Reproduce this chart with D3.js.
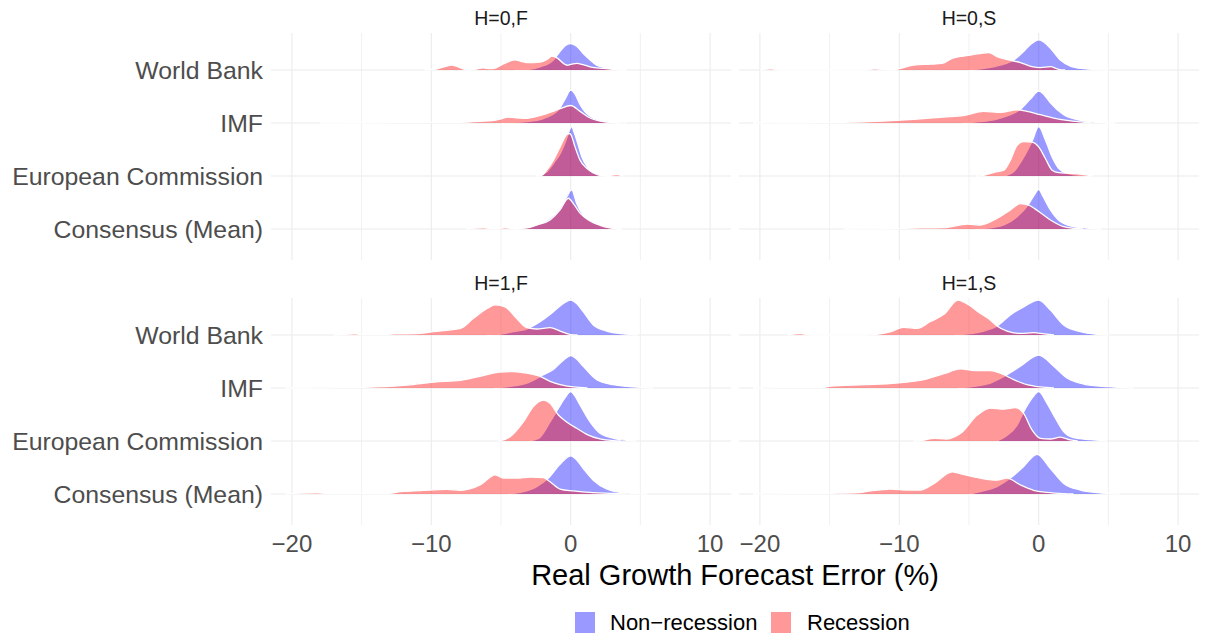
<!DOCTYPE html>
<html><head><meta charset="utf-8">
<script src="https://cdn.jsdelivr.net/npm/d3@7"></script>
<style>body{margin:0;background:#fff;} svg{display:block;font-family:"Liberation Sans",Arial,sans-serif;}</style>
</head><body>
<svg id="chart" width="1208" height="635"></svg>
<script>
// ---------- data ----------
const rows = ["World Bank", "IMF", "European Commission", "Consensus (Mean)"];
const facets = ["H=0,F", "H=0,S", "H=1,F", "H=1,S"];
const groups = ["Non\u2212recession", "Recession"];
const xTicks = [-20, -10, 0, 10];
const xMinor = [-15, -5, 5];
const xTitle = "Real Growth Forecast Error (%)";

// ridge heights (in units of row spacing) at x positions, [x, height]
const h0F_non = [
  [[-4,0],[-3,0.01],[-2.2,0.06],[-1.24,0.19],[-0.76,0.35],[-0.4,0.46],[0,0.50],[0.43,0.45],[0.9,0.31],[1.39,0.19],[1.86,0.09],[2.58,0.04],[3.5,0.006],[4,0]],
  [[-5,0],[-3,0.03],[-2,0.08],[-1.3,0.16],[-0.8,0.27],[-0.35,0.48],[0,0.62],[0.3,0.55],[0.67,0.35],[1.0,0.22],[1.39,0.126],[2.1,0.05],[3.06,0.01],[4,0]],
  [[-2.5,0],[-1.8,0.06],[-1.2,0.25],[-0.7,0.45],[-0.3,0.70],[-0.1,0.86],[0.07,0.93],[0.25,0.82],[0.43,0.68],[0.8,0.36],[1.27,0.145],[1.86,0.04],[2.4,0.005],[3,0]],
  [[-4,0],[-3.2,0.02],[-2.4,0.08],[-1.5,0.2],[-0.8,0.38],[-0.3,0.6],[0.07,0.74],[0.43,0.48],[0.9,0.26],[1.62,0.14],[2.34,0.057],[3.06,0.01],[3.7,0]]
];
const h0F_rec = [
  [[-10.5,0],[-9.8,0.01],[-9.2,0.05],[-8.5,0.094],[-7.9,0.04],[-7.45,0],[-6.9,0.01],[-6.3,0.04],[-5.8,0.025],[-5.5,0.03],[-4.8,0.12],[-4.0,0.19],[-3.5,0.16],[-3.15,0.14],[-2.2,0.15],[-1.7,0.2],[-1.36,0.26],[-0.93,0.22],[-0.5,0.12],[-0.26,0.09],[0.07,0.11],[0.43,0.126],[0.9,0.1],[1.39,0.06],[2.34,0.03],[3.5,0.004],[4,0]],
  [[-18,0],[-14,0.005],[-10,0.01],[-7.9,0.013],[-6.5,0.03],[-5.5,0.05],[-5,0.08],[-4.5,0.11],[-4,0.10],[-3.15,0.09],[-2.5,0.12],[-1.96,0.157],[-1.26,0.22],[-0.76,0.27],[0,0.33],[0.67,0.22],[1.39,0.094],[2.34,0.025],[3.5,0]],
  [[-2.3,0],[-2.08,0.01],[-1.72,0.11],[-1.24,0.3],[-0.76,0.55],[-0.24,0.79],[-0.05,0.8],[0.07,0.75],[0.31,0.55],[0.67,0.30],[1.15,0.145],[1.62,0.06],[2.1,0.01],[2.6,0.005],[3.25,0.025],[3.8,0]],
  [[-7.5,0],[-6.26,0.02],[-5.5,0.005],[-4.7,0.02],[-4,0.005],[-3.15,0.02],[-2.44,0.075],[-1.48,0.17],[-0.76,0.36],[-0.17,0.58],[0.19,0.48],[0.67,0.30],[1.27,0.17],[2.1,0.07],[2.82,0.02],[3.5,0]]
];
const h0S_non = [
  [[-5,0],[-3.94,0.03],[-2.75,0.094],[-1.79,0.19],[-1.08,0.35],[-0.5,0.5],[0,0.57],[0.4,0.52],[0.84,0.41],[1.55,0.19],[2.27,0.075],[3.23,0.025],[4.2,0.006],[5,0]],
  [[-5.5,0],[-4.2,0.025],[-3,0.075],[-2.03,0.157],[-1.31,0.26],[-0.6,0.45],[0,0.60],[0.4,0.53],[0.84,0.38],[1.79,0.157],[2.75,0.063],[3.7,0.02],[4.7,0.005],[5.5,0]],
  [[-2.5,0],[-1.8,0.08],[-1.2,0.3],[-0.48,0.65],[0,0.93],[0.48,0.68],[0.96,0.36],[1.43,0.145],[2.03,0.05],[2.99,0.013],[3.7,0]],
  [[-4.5,0],[-3.5,0.02],[-2.5,0.075],[-1.55,0.23],[-0.72,0.47],[-0.3,0.65],[0,0.75],[0.3,0.62],[0.84,0.36],[1.55,0.14],[2.5,0.044],[3.7,0.013],[4.5,0]]
];
const h0S_rec = [
  [[-20,0],[-19.2,0.02],[-18.5,0],[-12.5,0],[-11.8,0.02],[-10.8,0.005],[-10.4,0.005],[-9.9,0.03],[-8.96,0.094],[-7.77,0.11],[-6.93,0.126],[-6.2,0.22],[-4.9,0.28],[-3.58,0.33],[-2.99,0.25],[-2.15,0.19],[-1.31,0.14],[-0.48,0.063],[0.1,0.045],[0.84,0.063],[1.43,0.013],[1.9,0]],
  [[-20.5,0],[-17,0.005],[-12.5,0.02],[-10.2,0.05],[-8.7,0.075],[-6.8,0.113],[-5.4,0.14],[-3.94,0.22],[-2.75,0.2],[-1.55,0.25],[-0.84,0.22],[0.12,0.157],[1.08,0.094],[2.03,0.05],[2.99,0.02],[3.8,0]],
  [[-4.5,0],[-3.94,0.013],[-3.2,0.07],[-2.5,0.11],[-2.03,0.30],[-1.55,0.58],[-1.08,0.65],[-0.48,0.64],[0,0.55],[0.48,0.33],[0.96,0.11],[1.43,0.063],[2.27,0.05],[3.23,0.025],[3.9,0]],
  [[-14,0],[-11,0.005],[-8.5,0.02],[-6.8,0.025],[-5.1,0.094],[-4.2,0.075],[-3,0.2],[-2.03,0.36],[-1.31,0.48],[-0.72,0.45],[0,0.33],[0.84,0.17],[1.79,0.044],[2.5,0.013],[3.2,0]]
];
const h1F_non = [
  [[-6,0],[-5.07,0.013],[-4.1,0.063],[-3.03,0.126],[-2.2,0.25],[-1.24,0.44],[-0.5,0.6],[0,0.66],[0.4,0.6],[0.9,0.44],[1.62,0.19],[2.58,0.075],[3.78,0.02],[4.8,0]],
  [[-5.5,0],[-4.35,0.03],[-3.15,0.09],[-1.96,0.25],[-1.24,0.35],[-0.5,0.53],[0,0.61],[0.4,0.55],[0.9,0.41],[1.86,0.157],[3.06,0.063],[4.5,0.02],[5.9,0]],
  [[-3,0],[-2.3,0.05],[-1.48,0.36],[-0.88,0.62],[-0.4,0.82],[0,0.93],[0.3,0.85],[0.67,0.68],[1.39,0.36],[2.1,0.145],[3.06,0.05],[4.0,0.013],[4.7,0]],
  [[-4.5,0],[-3.4,0.044],[-2.44,0.14],[-1.6,0.30],[-0.8,0.55],[0,0.72],[0.4,0.65],[0.9,0.48],[1.62,0.26],[2.58,0.094],[3.54,0.03],[4.73,0.006],[5.5,0]]
];
const h1F_rec = [
  [[-17,0],[-16.5,0.006],[-15.5,0.02],[-14.8,0.006],[-13.5,0.006],[-12.7,0.02],[-11,0.025],[-9.8,0.063],[-8.9,0.09],[-7.9,0.126],[-7,0.31],[-6,0.5],[-5.4,0.57],[-4.7,0.53],[-3.87,0.31],[-3.15,0.14],[-2.44,0.113],[-1.48,0.14],[-0.76,0.075],[0,0.006],[0.5,0]],
  [[-20.5,0],[-17,0.006],[-15.1,0.013],[-12.2,0.044],[-9.8,0.113],[-7.9,0.145],[-6.5,0.22],[-5.07,0.30],[-4.1,0.31],[-3.15,0.28],[-2.2,0.22],[-1.48,0.126],[-0.76,0.063],[0.19,0.02],[1.2,0]],
  [[-5.2,0],[-4.95,0.01],[-4.35,0.08],[-3.4,0.36],[-2.68,0.65],[-1.96,0.77],[-1.48,0.71],[-0.88,0.49],[-0.29,0.36],[0.43,0.24],[1.15,0.126],[2.1,0.038],[3.06,0.006],[3.6,0]],
  [[-20.5,0],[-18.2,0.02],[-17,0.006],[-15.1,0.013],[-13.2,0.006],[-12.2,0.044],[-10.8,0.063],[-8.9,0.088],[-7.9,0.07],[-6.5,0.17],[-5.4,0.36],[-4.83,0.30],[-3.87,0.30],[-2.9,0.32],[-1.96,0.31],[-1.48,0.23],[-0.76,0.094],[0.19,0.057],[1.62,0.025],[3.06,0.013],[4,0]]
];
const h1S_non = [
  [[-6,0],[-5.1,0.02],[-3.94,0.075],[-2.99,0.17],[-2.03,0.38],[-1.08,0.53],[0,0.66],[0.84,0.47],[1.79,0.19],[2.99,0.063],[4.2,0.013],[5,0]],
  [[-5.8,0],[-4.66,0.03],[-3.46,0.094],[-2.27,0.25],[-1.31,0.41],[0,0.62],[1.08,0.41],[2.03,0.19],[3.23,0.075],[4.9,0.025],[6.8,0]],
  [[-3,0],[-2.3,0.1],[-1.55,0.3],[-1.08,0.55],[-0.5,0.8],[0,0.93],[0.6,0.71],[1.2,0.43],[1.79,0.176],[2.5,0.063],[3.7,0.025],[4.9,0]],
  [[-5,0],[-4.2,0.044],[-3,0.14],[-2.03,0.30],[-1.08,0.52],[-0.12,0.75],[0.84,0.48],[1.79,0.2],[2.99,0.075],[4.2,0.025],[5.8,0]]
];
const h1S_rec = [
  [[-18,0],[-17.1,0.025],[-16.3,0],[-12.5,0],[-11.8,0.006],[-10.6,0.063],[-9.7,0.145],[-8.7,0.126],[-7.8,0.25],[-6.8,0.39],[-5.78,0.66],[-5.1,0.58],[-4.2,0.41],[-3.46,0.28],[-2.99,0.17],[-2.27,0.075],[-1.31,0.03],[-0.36,0.044],[0.4,0.02],[1.1,0]],
  [[-20.5,0],[-17.3,0.013],[-15.6,0.006],[-14.9,0.038],[-12.5,0.063],[-10.2,0.094],[-8.24,0.157],[-6.8,0.27],[-5.6,0.36],[-4.66,0.33],[-3.46,0.33],[-2.75,0.28],[-1.79,0.157],[-0.84,0.063],[0.12,0.02],[1.1,0]],
  [[-9,0],[-8.5,0.006],[-7.5,0.05],[-6.6,0.038],[-5.6,0.145],[-4.4,0.49],[-3.46,0.62],[-2.5,0.60],[-1.67,0.63],[-1.08,0.52],[-0.48,0.21],[0.12,0.05],[0.84,0.038],[1.55,0.075],[2.27,0.02],[2.8,0]],
  [[-20.5,0],[-14.8,0.013],[-12.9,0.025],[-12.1,0.057],[-10.6,0.094],[-9.4,0.075],[-8.5,0.075],[-7.5,0.2],[-6.2,0.42],[-5.4,0.37],[-4.2,0.30],[-3,0.26],[-2.27,0.30],[-1.31,0.17],[-0.36,0.07],[0.6,0.03],[1.8,0.006],[2.5,0]]
];

const facetSeries = [
  [h0F_non, h0F_rec],
  [h0S_non, h0S_rec],
  [h1F_non, h1F_rec],
  [h1S_non, h1S_rec]
];
const colors = ["#0000ff", "#ff0000"];

// ---------- layout ----------
const svg = d3.select("#chart");
const panelX = [[271, 731], [739, 1199]];
const panelY = [[33, 260], [298, 525]];
const xDomain = [-21.5, 11.5];
const rowStep = 53;

facets.forEach((f, fi) => {
  const col = fi % 2, rowP = Math.floor(fi / 2);
  const [x0, x1] = panelX[col];
  const [y0, y1] = panelY[rowP];
  const x = d3.scaleLinear().domain(xDomain).range([x0, x1]);
  const yRow = d3.scalePoint().domain(rows).range([y0 + 37, y0 + 37 + 3 * rowStep]);
  const h = d3.scaleLinear().domain([0, 1]).range([0, rowStep]);
  const g = svg.append("g");

  // gridlines
  g.selectAll(".minor").data(xMinor).join("line")
    .attr("x1", d => x(d)).attr("x2", d => x(d)).attr("y1", y0).attr("y2", y1)
    .attr("stroke", "#ebebeb").attr("stroke-width", 0.7);
  g.selectAll(".major").data(xTicks).join("line")
    .attr("x1", d => x(d)).attr("x2", d => x(d)).attr("y1", y0).attr("y2", y1)
    .attr("stroke", "#ebebeb").attr("stroke-width", 1.1);
  g.selectAll(".hgrid").data(rows).join("line")
    .attr("x1", x0).attr("x2", x1).attr("y1", d => yRow(d)).attr("y2", d => yRow(d))
    .attr("stroke", "#ebebeb").attr("stroke-width", 1.1);

  // ridges
  rows.forEach((r, ri) => {
    const base = yRow(r);
    const area = d3.area().curve(d3.curveMonotoneX)
      .x(d => x(d[0])).y0(base).y1(d => base - h(d[1]));
    const line = d3.line().curve(d3.curveMonotoneX)
      .x(d => x(d[0])).y(d => base - h(d[1]));
    facetSeries[fi].forEach((ser, si) => {
      const pts = ser[ri];
      g.append("path").attr("d", area(pts))
        .attr("fill", colors[si]).attr("fill-opacity", 0.4);
      g.append("path").attr("d", line(pts))
        .attr("fill", "none").attr("stroke", "#ffffff").attr("stroke-width", 1.3);
    });
  });

  // strip label
  svg.append("text").attr("x", (x0 + x1) / 2).attr("y", y0 - 15)
    .attr("text-anchor", "middle").attr("dominant-baseline", "central")
    .attr("font-size", 19.5).attr("fill", "#1a1a1a").text(f);

  // y labels on left column
  if (col === 0) {
    svg.append("g").selectAll("text").data(rows).join("text")
      .attr("x", 263).attr("y", d => yRow(d)).attr("dy", "0.36em")
      .attr("text-anchor", "end").attr("font-size", 24.8).attr("fill", "#4d4d4d")
      .text(d => d);
  }
  // x tick labels on bottom row
  if (rowP === 1) {
    svg.append("g").selectAll("text").data(xTicks).join("text")
      .attr("x", d => x(d)).attr("y", 543).attr("dy", "0.36em")
      .attr("text-anchor", "middle").attr("font-size", 24).attr("fill", "#4d4d4d")
      .text(d => d3.format("d")(d).replace("-", "\u2212"));
  }
});

// axis title
svg.append("text").attr("x", 735).attr("y", 575).attr("dy", "0.36em")
  .attr("text-anchor", "middle").attr("font-size", 29).attr("fill", "#000")
  .text(xTitle);

// legend
const legX = [575, 771], legTextX = [610, 807];
groups.forEach((gname, i) => {
  svg.append("rect").attr("x", legX[i]).attr("y", 612).attr("width", 20).attr("height", 21)
    .attr("fill", colors[i]).attr("fill-opacity", 0.4);
  svg.append("text").attr("x", legTextX[i]).attr("y", 622.5).attr("dy", "0.36em")
    .attr("font-size", 22).attr("fill", "#000").text(gname);
});
</script>
</body></html>
